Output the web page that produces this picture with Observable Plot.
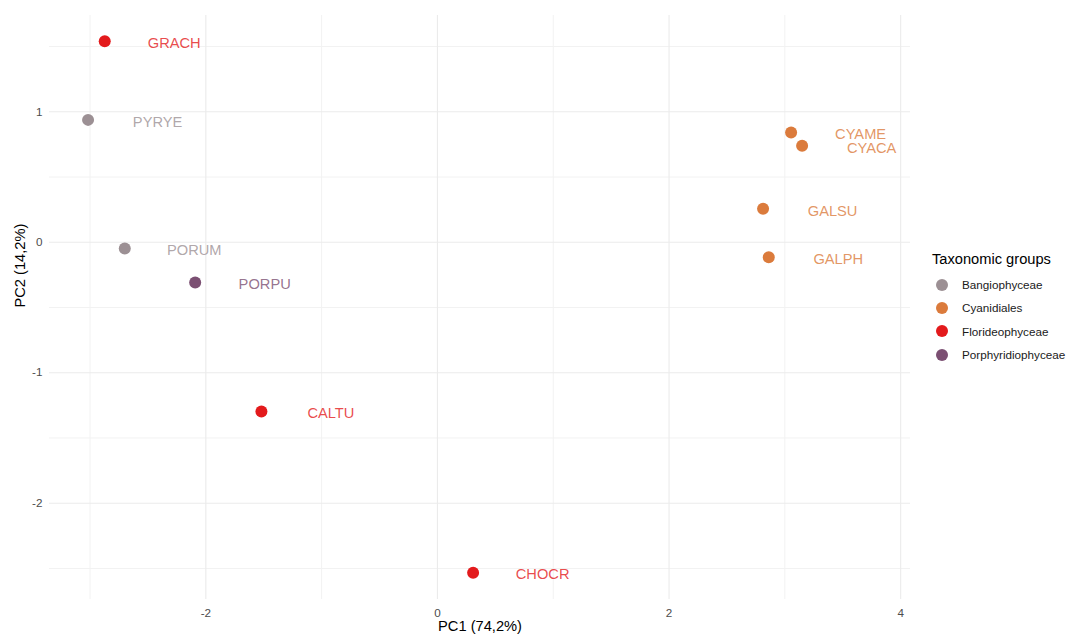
<!DOCTYPE html>
<html>
<head>
<meta charset="utf-8">
<script src="https://cdn.jsdelivr.net/npm/d3@7"></script>
<script src="https://cdn.jsdelivr.net/npm/@observablehq/plot@0.6"></script>
<style>
  html, body { margin: 0; padding: 0; background: #fff; }
  #wrap { position: relative; width: 1072px; height: 639px; font-family: "Liberation Sans", Arial, sans-serif; }
  #legend { position: absolute; left: 932px; top: 249px; }
  #legend .title { font-size: 14.67px; color: #000; height: 20px; line-height: 20px; margin-bottom: 4px; }
  #legend .item { display: flex; align-items: center; height: 23.3px; font-size: 11.7px; color: #1a1a1a; }
  #legend .dot { width: 12px; height: 12px; border-radius: 50%; margin-left: 4px; margin-right: 14px; }
</style>
</head>
<body>
<div id="wrap"><div id="chart"></div><div id="legend"></div></div>
<script>
const ids    = ["GRACH", "PYRYE", "PORUM", "PORPU", "CALTU", "CHOCR", "CYAME", "CYACA", "GALSU", "GALPH"];
const pc1    = [-2.873, -3.017, -2.700, -2.092, -1.520, 0.308, 3.054, 3.149, 2.812, 2.861];
const pc2    = [1.541, 0.938, -0.048, -0.308, -1.297, -2.533, 0.841, 0.739, 0.256, -0.114];
const groups = ["Florideophyceae", "Bangiophyceae", "Bangiophyceae", "Porphyridiophyceae", "Florideophyceae",
                "Florideophyceae", "Cyanidiales", "Cyanidiales", "Cyanidiales", "Cyanidiales"];

const groupNames  = ["Bangiophyceae", "Cyanidiales", "Florideophyceae", "Porphyridiophyceae"];
const groupColors = ["#9c9094", "#db7b3c", "#e31a1c", "#7b4f72"];

const xMajor = [-2, 0, 2, 4];
const xMinor = [-3, -1, 1, 3];
const yMajor = [-2, -1, 0, 1];
const yMinor = [-2.5, -1.5, -0.5, 0.5, 1.5];

const xTitle = "PC1 (74,2%)";
const yTitle = "PC2 (14,2%)";
const legendTitle = "Taxonomic groups";

const data = ids.map((id, i) => ({id, x: pc1[i], y: pc2[i], group: groups[i]}));

const font = "'Liberation Sans', Arial, sans-serif";
const fmt = d => String(d);

const chart = Plot.plot({
  width: 1072,
  height: 639,
  marginLeft: 49,
  marginRight: 162,
  marginTop: 15,
  marginBottom: 40,
  style: {fontFamily: font, background: "#fff"},
  x: {domain: [-3.35, 4.085], label: null},
  y: {domain: [-2.738, 1.738], label: null},
  color: {domain: groupNames, range: groupColors},
  marks: [
    Plot.ruleX(xMinor, {stroke: "#f2f2f2", strokeWidth: 1}),
    Plot.ruleY(yMinor, {stroke: "#f2f2f2", strokeWidth: 1}),
    Plot.ruleX(xMajor, {stroke: "#ebebeb", strokeWidth: 1.1}),
    Plot.ruleY(yMajor, {stroke: "#ebebeb", strokeWidth: 1.1}),
    Plot.axisX(xMajor, {tickSize: 0, tickPadding: 9, fontSize: 11.7, fill: "#4d4d4d", label: null, tickFormat: fmt}),
    Plot.axisY(yMajor, {tickSize: 0, tickPadding: 7, fontSize: 11.7, fill: "#4d4d4d", label: null, tickFormat: fmt}),
    Plot.dot(data, {x: "x", y: "y", fill: "group", r: 6, stroke: null}),
    Plot.text(data, {x: "x", y: "y", text: "id", fill: "group", fillOpacity: 0.8, dx: 69.5, dy: 2,
                     fontSize: 14.67, textAnchor: "middle"}),
    Plot.text([xTitle], {frameAnchor: "bottom", dy: 31, fontSize: 14.67, fill: "#000"}),
    Plot.text([yTitle], {frameAnchor: "left", dx: -29, rotate: -90, fontSize: 14.67, fill: "#000"})
  ]
});
document.getElementById("chart").appendChild(chart);

const legend = document.getElementById("legend");
const t = document.createElement("div");
t.className = "title";
t.textContent = legendTitle;
legend.appendChild(t);
groupNames.forEach((g, i) => {
  const item = document.createElement("div");
  item.className = "item";
  const dot = document.createElement("span");
  dot.className = "dot";
  dot.style.background = groupColors[i];
  const lab = document.createElement("span");
  lab.textContent = g;
  item.appendChild(dot);
  item.appendChild(lab);
  legend.appendChild(item);
});
</script>
</body>
</html>
